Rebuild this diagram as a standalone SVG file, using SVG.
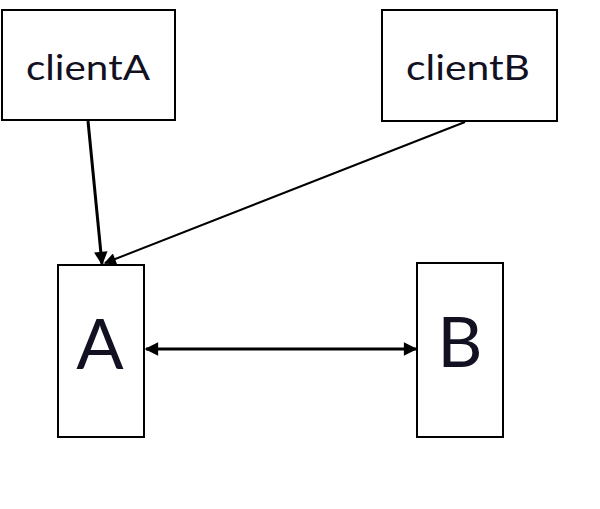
<svg xmlns="http://www.w3.org/2000/svg" width="600" height="509" viewBox="0 0 600 509">
<defs>
<style>
.box{fill:#fff;stroke:#000;stroke-width:2}
.lbl{font-family:Lato,"Open Sans","Liberation Sans",sans-serif;fill:#111122;text-anchor:middle}
.edge{stroke:#000;fill:none}
</style>
<marker id="ah" viewBox="0 0 10 10" refX="9" refY="5" markerWidth="5" markerHeight="4.5" orient="auto-start-reverse" markerUnits="strokeWidth">
<path d="M0,0 L10,5 L0,10 z" fill="#000"/>
</marker>
<marker id="ah2" viewBox="0 0 10 10" refX="9" refY="5" markerWidth="7" markerHeight="6" orient="auto" markerUnits="strokeWidth">
<path d="M0,0 L10,5 L0,10 z" fill="#000"/>
</marker>
</defs>
<rect width="600" height="509" fill="#fff"/>
<g id="clientA"><rect class="box" x="2" y="10" width="173" height="110"/><text class="lbl" x="88" y="80" font-size="35" textLength="124" lengthAdjust="spacingAndGlyphs">clientA</text></g>
<g id="clientB"><rect class="box" x="382" y="10" width="175" height="111"/><text class="lbl" x="468" y="80" font-size="35" textLength="124" lengthAdjust="spacingAndGlyphs">clientB</text></g>
<g id="A"><rect class="box" x="58" y="265" width="86" height="172"/><text class="lbl" x="100" y="369" font-size="70">A</text></g>
<g id="B"><rect class="box" x="417" y="263" width="86" height="174"/><text class="lbl" x="460" y="367" font-size="70">B</text></g>
<g id="connectors">
<line class="edge" x1="88" y1="121" x2="102" y2="264" stroke-width="3" marker-end="url(#ah)"/>
<line class="edge" x1="465" y1="122" x2="105" y2="263" stroke-width="2" marker-end="url(#ah2)"/>
<line class="edge" x1="146" y1="349" x2="416" y2="349" stroke-width="3" marker-start="url(#ah)" marker-end="url(#ah)"/>
</g>
</svg>
